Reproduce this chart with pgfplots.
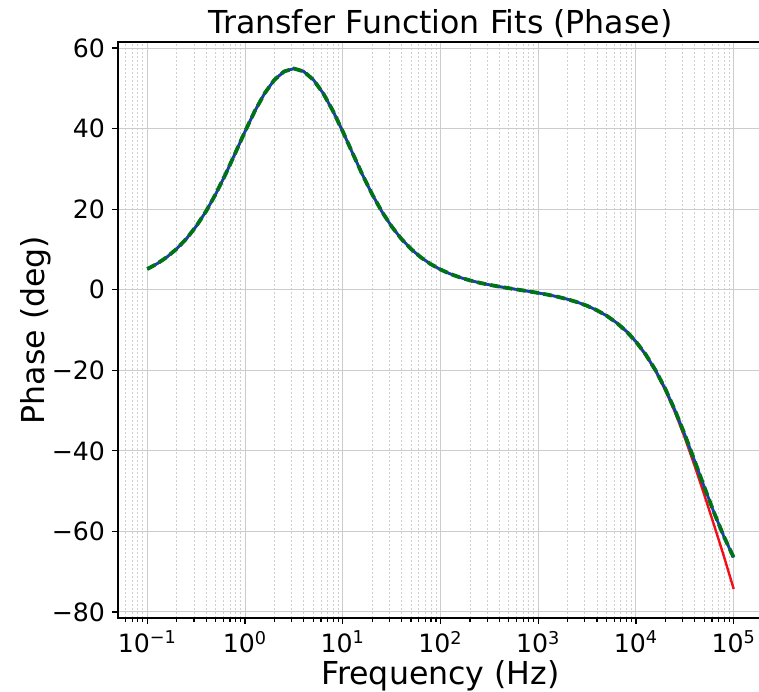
\documentclass[border=0pt]{standalone}
\usepackage{fontspec}
\setmainfont{DejaVu Sans}
\usepackage{pgfplots}
\usepackage{pgfplotstable}
\pgfplotsset{compat=1.18}
\definecolor{mplred}{rgb}{0.95,0.05,0.1}
\definecolor{mplgreen}{rgb}{0,0.45,0.1}
\definecolor{mplblue}{rgb}{0.1,0.25,0.7}
\pgfplotstableread{
f          g        r
1e-1       5.138    5.138
1.2589e-1  6.454    6.454
1.5849e-1  8.098    8.098
1.9953e-1  10.141   10.141
2.5119e-1  12.660   12.660
3.1623e-1  15.737   15.737
3.9811e-1  19.428   19.428
5.0119e-1  23.751   23.751
6.3096e-1  28.641   28.641
7.9433e-1  33.919   33.919
1          39.289   39.289
1.2589     44.364   44.364
1.5849     48.743   48.743
1.9953     52.096   52.096
2.5119     54.193   54.193
3.1623     54.904   54.904
3.9811     54.192   54.192
5.0119     52.095   52.095
6.3096     48.742   48.742
7.9433     44.362   44.362
10         39.276   39.276
12.589     33.902   33.902
15.849     28.620   28.620
19.953     23.725   23.725
25.119     19.395   19.395
31.623     15.695   15.695
39.811     12.608   12.608
50.119     10.075   10.075
63.096     8.015    8.015
79.433     6.349    6.349
100        5.006    5.006
125.89     3.921    3.921
158.49     3.040    3.040
199.53     2.319    2.319
251.19     1.721    1.721
316.23     1.213    1.213
398.11     0.771    0.771
501.19     0.369    0.369
630.96     -0.014   -0.014
794.33     -0.397   -0.397
1000       -0.801   -0.801
1258.9     -1.248   -1.248
1584.9     -1.762   -1.762
1995.3     -2.368   -2.368
2511.9     -3.100   -3.100
3162.3     -3.995   -3.995
3981.1     -5.100   -5.100
5011.9     -6.469   -6.469
6309.6     -8.171   -8.171
7943.3     -10.282  -10.282
10000      -12.895  -12.97
12589      -16.100  -16.22
15849      -19.986  -20.18
19953      -24.614  -24.92
25119      -29.984  -30.47
31623      -36.000  -36.78
39811      -42.451  -43.69
50119      -49.034  -50.99
63096      -55.408  -58.51
79433      -61.287  -66.21
100000     -66.486  -74.29
}\phasedata
\begin{document}
\begin{tikzpicture}
\begin{axis}[
  at={(0,0)}, anchor=south west,
  scale only axis,
  width=322.5pt, height=288pt,
  xmode=log, log basis x=10,
  xmin=0.050119, xmax=199526,
  ymin=-81.5, ymax=61.5,
  xtick={0.1,1,10,100,1000,10000,100000},
  xticklabels={10\textsuperscript{−1},10\textsuperscript{0},10\textsuperscript{1},10\textsuperscript{2},10\textsuperscript{3},10\textsuperscript{4},10\textsuperscript{5}},
  minor xtick={0.06,0.07,0.08,0.09,0.2,0.3,0.4,0.5,0.6,0.7,0.8,0.9,2,3,4,5,6,7,8,9,20,30,40,50,60,70,80,90,200,300,400,500,600,700,800,900,2000,3000,4000,5000,6000,7000,8000,9000,20000,30000,40000,50000,60000,70000,80000,90000},
  ytick={-80,-60,-40,-20,0,20,40,60},
  yticklabels={−80,−60,−40,−20,0,20,40,60},
  tick pos=left,
  tick align=outside,
  major tick length=3pt,
  minor tick length=1.8pt,
  tick style={black, line width=0.6pt},
  grid=both,
  major grid style={gray!40, line width=0.5pt},
  minor grid style={gray!38, line width=0.4pt, dash pattern=on 1pt off 1pt},
  axis line style={black, line width=0.8pt},
  tick label style={font=\fontsize{12.6}{15}\selectfont},
  label style={font=\fontsize{15.8}{19}\selectfont},
  every axis title shift=0pt,
  title style={font=\fontsize{15.8}{19}\selectfont, at={(axis description cs:0.5,1)}, anchor=base, yshift=4.3pt, inner sep=0pt},
  title={Transfer Function Fits (Phase)},
  xlabel={Frequency (Hz)},
  ylabel={Phase (deg)},
  xlabel style={at={(axis description cs:0.5,-0.1111)}, anchor=base, inner sep=0pt, yshift=-1pt},
  ylabel style={at={(axis description cs:-0.1147,0.5)}, anchor=base, inner sep=0pt},
  every axis plot/.append style={line join=round},
]
\addplot[mplred, line width=1.2pt, no markers] table[x=f, y=r] {\phasedata};
\addplot[mplblue, line width=1.4pt, no markers] table[x=f, y=g] {\phasedata};
\addplot[mplgreen, line width=1.9pt, no markers, dash pattern=on 4.5pt off 2.2pt] table[x=f, y=g] {\phasedata};
\end{axis}
\pgfresetboundingbox
\path[use as bounding box] (-59pt,-36.5pt) rectangle (320.5pt,309pt);
\end{tikzpicture}
\end{document}
